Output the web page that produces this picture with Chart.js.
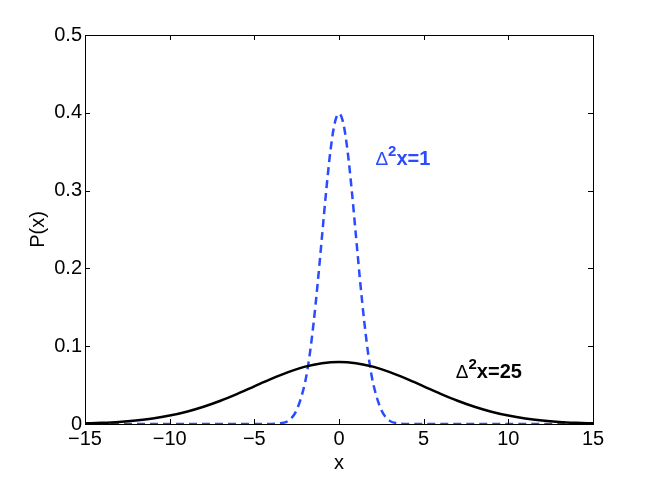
<!DOCTYPE html>
<html>
<head>
<meta charset="utf-8">
<script src="https://cdn.jsdelivr.net/npm/chart.js@4/dist/chart.umd.min.js"></script>
<style>
  html, body { margin: 0; padding: 0; background: #fff; }
  #wrap { width: 654px; height: 478px; }
</style>
</head>
<body>
<div id="wrap"><canvas id="chart" width="654" height="478"></canvas></div>
<script>
// values
const narrowX = [-15, -5, -4, -3.5, -3, -2.5, -2, -1.75, -1.5, -1.25, -1, -0.75, -0.5, -0.25, 0,
  0.25, 0.5, 0.75, 1, 1.25, 1.5, 1.75, 2, 2.5, 3, 3.5, 4, 5, 15];
const narrowY = [0, 0, 0.0001, 0.001, 0.004, 0.018, 0.054, 0.086, 0.130, 0.183, 0.242, 0.301, 0.352, 0.387, 0.399,
  0.387, 0.352, 0.301, 0.242, 0.183, 0.130, 0.086, 0.054, 0.018, 0.004, 0.001, 0.0001, 0, 0];

const wideX = [-15, -14, -13, -12, -11, -10, -9, -8, -7, -6, -5, -4, -3, -2, -1, 0,
  1, 2, 3, 4, 5, 6, 7, 8, 9, 10, 11, 12, 13, 14, 15];
const wideY = [0.0009, 0.0016, 0.0027, 0.0045, 0.0071, 0.0108, 0.0158, 0.0222, 0.0299, 0.0388, 0.0484, 0.0579, 0.0666, 0.0737, 0.0782, 0.0798,
  0.0782, 0.0737, 0.0666, 0.0579, 0.0484, 0.0388, 0.0299, 0.0222, 0.0158, 0.0108, 0.0071, 0.0045, 0.0027, 0.0016, 0.0009];

const xTicks = [-15, -10, -5, 0, 5, 10, 15];
const yTicks = [0, 0.1, 0.2, 0.3, 0.4, 0.5];

const curveLabels = [
  { text: "x=1", x: 2.15, y: 0.333, color: "#2b4bff" },
  { text: "x=25", x: 6.9, y: 0.059, color: "#000" }
];

const FONT = "'Liberation Sans', Arial, sans-serif";

function toPoints(xs, ys) {
  return xs.map((x, i) => ({ x: x, y: ys[i] }));
}

// box around the plot + inward ticks
const boxPlugin = {
  id: "box",
  afterDraw(chart) {
    const c = chart.ctx;
    const a = chart.chartArea;
    const sx = chart.scales.x;
    const sy = chart.scales.y;
    c.save();
    c.strokeStyle = "#000";
    c.lineWidth = 1;
    c.strokeRect(a.left + 0.5, a.top + 0.5, a.right - a.left, a.bottom - a.top);
    c.beginPath();
    xTicks.forEach((v) => {
      const px = Math.round(sx.getPixelForValue(v)) + 0.5;
      c.moveTo(px, a.bottom); c.lineTo(px, a.bottom - 5);
      c.moveTo(px, a.top); c.lineTo(px, a.top + 5);
    });
    yTicks.forEach((v) => {
      const py = Math.round(sy.getPixelForValue(v)) + 0.5;
      c.moveTo(a.left, py); c.lineTo(a.left + 5, py);
      c.moveTo(a.right, py); c.lineTo(a.right - 5, py);
    });
    c.stroke();

    // curve labels
    curveLabels.forEach((l) => {
      let px = sx.getPixelForValue(l.x);
      const py = sy.getPixelForValue(l.y);
      c.fillStyle = l.color;
      c.textBaseline = "alphabetic";
      c.font = "19px " + FONT;
      c.fillText("\u0394", px, py);
      px += c.measureText("\u0394").width;
      c.font = "bold 15px " + FONT;
      c.fillText("2", px, py - 9);
      px += c.measureText("2").width;
      c.font = "bold 20px " + FONT;
      c.fillText(l.text, px, py);
    });
    c.restore();
  }
};

new Chart(document.getElementById("chart"), {
  type: "scatter",
  data: {
    datasets: [
      {
        data: toPoints(wideX, wideY),
        showLine: true,
        borderColor: "#000",
        borderWidth: 2.5,
        pointRadius: 0,
        cubicInterpolationMode: "monotone"
      },
      {
        data: toPoints(narrowX, narrowY),
        showLine: true,
        borderColor: "#2b4bff",
        borderWidth: 2.5,
        borderDash: [8, 5],
        pointRadius: 0,
        cubicInterpolationMode: "monotone"
      }
    ]
  },
  options: {
    responsive: false,
    animation: false,
    layout: { padding: { top: 35, right: 61, left: 0, bottom: 0 } },
    plugins: { legend: { display: false }, tooltip: { enabled: false } },
    scales: {
      x: {
        type: "linear",
        min: -15, max: 15,
        afterBuildTicks: (s) => { s.ticks = xTicks.map((v) => ({ value: v })); },
        afterFit: (s) => { s.height = 54; },
        grid: { display: false, drawTicks: false },
        border: { display: false },
        ticks: {
          color: "#000",
          padding: 3,
          font: { family: FONT, size: 20 },
          callback: (v) => String(v).replace("-", "\u2212")
        },
        title: {
          display: true, text: "x", color: "#000",
          font: { family: FONT, size: 20 },
          padding: { top: 0, bottom: 3 }
        }
      },
      y: {
        type: "linear",
        min: 0, max: 0.5,
        afterBuildTicks: (s) => { s.ticks = yTicks.map((v) => ({ value: v })); },
        afterFit: (s) => { s.width = 85; },
        grid: { display: false, drawTicks: false },
        border: { display: false },
        ticks: {
          color: "#000",
          padding: 3,
          font: { family: FONT, size: 20 },
          callback: (v) => (v === 0 ? "0" : v.toFixed(1))
        },
        title: {
          display: true, text: "P(x)", color: "#000",
          font: { family: FONT, size: 20 },
          padding: { top: 26, bottom: 0 }
        }
      }
    }
  },
  plugins: [boxPlugin]
});
</script>
</body>
</html>
